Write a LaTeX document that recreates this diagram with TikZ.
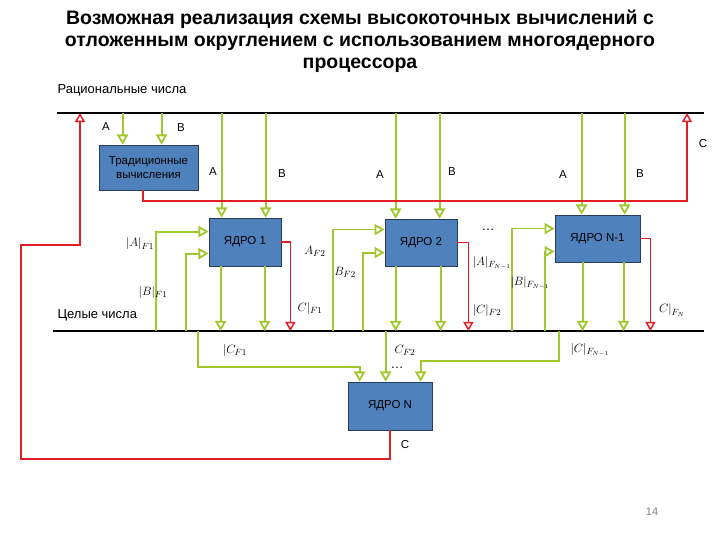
\documentclass[tikz,border=0pt]{standalone}
\usepackage{fontspec}
\setmainfont{Liberation Sans}
\usetikzlibrary{positioning}
\usetikzlibrary{arrows}
\usepackage{xcolor}
\definecolor{boxblue}{RGB}{79,129,189}
\definecolor{boxedge}{RGB}{40,60,90}
\definecolor{lime}{RGB}{160,200,45}
\definecolor{redline}{RGB}{225,30,35}

\begin{document}
\begin{tikzpicture}[x=1pt,y=-1pt,
    g/.style={->,draw=lime,line width=1.8pt,>=open triangle 60},%
    r/.style={->,draw=redline,line width=1.5pt,>=open triangle 60},%
    bus/.style={line width=2.6pt},%
    k/.style={draw=boxedge,fill=boxblue,line width=0.8pt,inner sep=0pt,font=\fontsize{11.5}{13.5}\selectfont},%
    lab/.style={font=\fontsize{11.5}{13}\selectfont},%
    m/.style={font=\fontsize{13}{15}\selectfont}]
    \useasboundingbox (0,0) rectangle (720,540);
    \node[font=\bfseries\fontsize{19.5}{22}\selectfont,align=center] (title) at (360,41) {Возможная реализация схемы высокоточных вычислений с\\отложенным округлением с использованием многоядерного\\процессора};
    \node[font=\fontsize{13}{15}\selectfont,anchor=west] (rat) at (54,90) {Рациональные числа};
    \node[font=\fontsize{13}{15}\selectfont,anchor=west] (int) at (54,315) {Целые числа};
    \coordinate (r0) at (57,113); \coordinate (r1) at (704,113);
    \coordinate (i0) at (53,331); \coordinate (i1) at (704,331);
    \draw[bus] (r0) -- (r1);
    \draw[bus] (i0) -- (i1);
    % blocks
    \node[k,minimum width=99,minimum height=45,align=center] (trad) at (148.5,167.5) {Традиционные\\вычисления};
    \node[k,minimum width=72,minimum height=48] (k1) at (245,242) {ЯДРО 1};
    \node[k,minimum width=72,minimum height=47] (k2) at (421,242.5) {ЯДРО 2};
    \node[k,minimum width=85,minimum height=47] (k3) at (597.5,238.5) {ЯДРО N-1};
    \node[k,minimum width=84,minimum height=48] (kN) at (390,406) {ЯДРО N};
    % A, B from rationals
    \foreach \n/\dx in {trad/24,trad/63,k1/13,k1/57,k2/11,k2/55,k3/27,k3/70}
        \draw[g] ([xshift=\dx]\n.north west |- r0) -- ([xshift=\dx]\n.north west);
    % results to integers
    \foreach \n/\dx in {k1/12,k1/56,k2/11,k2/56,k3/28,k3/69}
        \draw[g] ([xshift=\dx]\n.south west) -- ([xshift=\dx]\n.south west |- i0);
    \foreach \n/\dx/\dy in {k1/-53/-14,k1/-23/-36,k2/-52/-11,k2/-22/-34,k3/-43/-14,k3/-10/-37}
        \draw[g] ([xshift=\dx]\n.north west |- i0) |- ([yshift=\dy]\n.north west);
    \foreach \n/\dx in {k1/9,k2/11,k3/10}
        \draw[r] (\n.east) -| ([xshift=\dx]\n.east |- i0);
    % traditional result
    \coordinate (cup) at (687,201);
    \draw[r] ([xshift=-5.5]trad.south) |- (cup) -- (cup |- r0);
    % collecting on core N
    \draw[g] ([xshift=-150]kN.north west |- i0) |- ([xshift=12,yshift=15]kN.north west) -- ([xshift=12]kN.north west);
    \draw[g] ([xshift=38]kN.north west |- i0) -- ([xshift=38]kN.north west);
    \draw[g] ([xshift=211]kN.north west |- i0) |- ([xshift=73,yshift=21]kN.north west) -- ([xshift=73]kN.north west);
    \coordinate (fb1) at (21,459); \coordinate (fb2) at (80,245);
    \draw[r] (kN.south) |- (fb1) |- (fb2) -- (fb2 |- r0);
    % letters
    \foreach \t/\x/\y in {A/106/127,B/181/128,A/213/172,B/282/174,A/380/175,B/452/172,A/563/175,B/640/174,C/703/144,C/405/445}
        \node[lab] at (\x,\y) {\t};
    % values
    \node[m] (a1) at (140,244) {$|A|_{F1}$};
    \node[m] (b1) at (153,292) {$|B|_{F1}$};
    \node[m] (c1) at (310,308) {$C|_{F1}$};
    \node[m] (a2) at (315,251) {$A_{F2}$};
    \node[m] (b2) at (345,272) {$B_{F2}$};
    \node[m] (d1) at (488,230) {\dots};
    \node[m] (a3) at (492,263) {$|A|_{F_{N-1}}$};
    \node[m] (c2) at (487,310) {$|C|_{F2}$};
    \node[m] (b3) at (530,283) {$|B|_{F_{N-1}}$};
    \node[m] (c4) at (672,310) {$C|_{F_N}$};
    \node[m] (s1) at (235,350) {$|C_{F1}$};
    \node[m] (s2) at (405,350) {$C_{F2}$};
    \node[m] (s3) at (590,350) {$|C|_{F_{N-1}}$};
    \node[m] (d2) at (397,368) {\dots};
    \node[font=\fontsize{11}{13}\selectfont,text=gray] (page) at (652,512) {14};
\end{tikzpicture}
\end{document}
